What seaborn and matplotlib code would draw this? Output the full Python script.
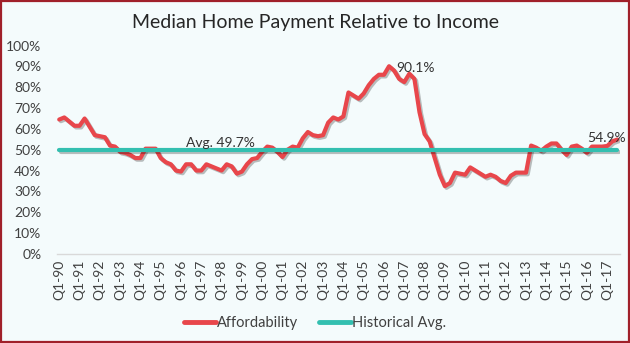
import matplotlib
matplotlib.use("Agg")
import matplotlib.pyplot as plt
import matplotlib.patheffects as pe
from matplotlib.patches import Rectangle
import numpy as np
import pandas as pd
import seaborn as sns

# Quarterly median home payment as % of median income, Q1-1990 .. Q3-2017
affordability = [
    64.5, 65.5, 63.5, 61.5,   # 1990
    61.5, 65.0, 61.0, 57.0,   # 1991
    56.5, 56.0, 52.0, 51.5,   # 1992
    49.0, 48.5, 47.5, 46.0,   # 1993
    46.0, 50.5, 50.5, 50.5,   # 1994
    46.0, 44.0, 43.0, 40.0,   # 1995
    39.5, 43.0, 43.0, 40.0,   # 1996
    40.0, 43.0, 42.0, 41.0,   # 1997
    40.0, 43.0, 42.0, 38.5,   # 1998
    39.5, 43.0, 45.5, 46.0,   # 1999
    49.0, 51.5, 51.0, 49.0,   # 2000
    46.5, 50.0, 51.5, 51.0,   # 2001
    55.5, 58.5, 57.0, 56.5,   # 2002
    57.0, 63.0, 65.5, 64.5,   # 2003
    66.0, 77.5, 76.0, 74.5,   # 2004
    77.0, 81.0, 84.0, 86.0,   # 2005
    86.0, 90.1, 88.0, 84.0,   # 2006
    82.5, 86.5, 84.0, 68.0,   # 2007
    57.5, 54.0, 46.0, 38.0,   # 2008
    32.5, 34.0, 39.0, 38.5,   # 2009
    38.0, 41.5, 40.0, 38.5,   # 2010
    37.0, 38.0, 37.0, 35.0,   # 2011
    34.0, 37.5, 39.0, 39.0,   # 2012
    39.0, 52.0, 51.0, 49.5,   # 2013
    51.5, 53.0, 53.0, 50.0,   # 2014
    47.5, 51.5, 52.0, 50.5,   # 2015
    48.5, 51.5, 51.5, 51.5,   # 2016
    51.8, 54.0, 54.9,         # 2017
]
historical_avg = 49.7
years = [f"{y % 100:02d}" for y in range(1990, 2018)]
tick_labels = [f"Q1-{y}" for y in years]
peak_label = "90.1%"
last_label = "54.9%"
avg_label = "Avg. 49.7%"

n = len(affordability)
df = pd.DataFrame({
    "idx": np.arange(n),
    "Affordability": affordability,
    "Historical Avg.": [historical_avg] * n,
})
long = df.melt(id_vars="idx", var_name="series", value_name="pct")

RED = "#E8464B"
TEAL = "#33BFB0"
BG = "#F4FBFC"

sns.set_theme(style="white")
plt.rcParams["font.family"] = ["Lato", "DejaVu Sans"]

fig = plt.figure(figsize=(6.3, 3.43), dpi=100, facecolor=BG)
ax = fig.add_axes([0.09, 0.26, 0.894, 0.607])
ax.set_facecolor(BG)

shadow = [pe.SimpleLineShadow(offset=(1.2, -1.2), shadow_color="#000000", alpha=0.25), pe.Normal()]

# affordability first, average on top
sns.lineplot(data=long, x="idx", y="pct", hue="series",
             palette={"Affordability": RED, "Historical Avg.": TEAL},
             hue_order=["Affordability", "Historical Avg."],
             linewidth=3.0, ax=ax, legend=False)
for line in ax.get_lines():
    line.set_path_effects(shadow)
    line.set_solid_capstyle("round")

ax.set_xlim(-0.5, n - 0.5)
ax.set_ylim(0, 100)
ax.set_yticks(np.arange(0, 101, 10))
ax.set_yticklabels([f"{v}%" for v in range(0, 101, 10)])
ax.set_xticks(np.arange(0, n, 4))
ax.set_xticklabels(tick_labels, rotation=90)
ax.tick_params(axis="y", length=0, labelsize=10, colors="#404040", pad=11)
ax.tick_params(axis="x", length=0, labelsize=10, colors="#404040", pad=4)
ax.set_xlabel("")
ax.set_ylabel("")
for side in ["top", "right", "left"]:
    ax.spines[side].set_visible(False)
ax.spines["bottom"].set_color("#D9D9D9")
ax.spines["bottom"].set_linewidth(1.0)

# value callouts
peak_i = int(np.argmax(affordability))
ax.annotate(peak_label, (peak_i, affordability[peak_i]), xytext=(5, -1),
            textcoords="offset points", ha="left", va="center",
            fontsize=10, color="#333333")
ax.annotate(last_label, (n - 1, affordability[-1]), xytext=(-8, 1),
            textcoords="offset points", ha="center", va="center",
            fontsize=10, color="#333333", annotation_clip=False)
ax.annotate(avg_label, (31.7, historical_avg), xytext=(0, 1),
            textcoords="offset points", ha="center", va="bottom",
            fontsize=10, color="#333333")

fig.suptitle("Median Home Payment Relative to Income", x=0.5, y=0.96,
             fontsize=14, color="#262626")

handles = [plt.Line2D([], [], color=RED, lw=3.5), plt.Line2D([], [], color=TEAL, lw=3.5)]
fig.legend(handles, ["Affordability", "Historical Avg."], loc="center",
           bbox_to_anchor=(0.5, 0.058), ncol=2, frameon=False, fontsize=10.5,
           handlelength=2.2, handletextpad=0.1, columnspacing=1.4,
           labelcolor="#404040")

fig.add_artist(Rectangle((0.0015, 0.004), 0.997, 0.993, transform=fig.transFigure,
                         fill=False, edgecolor="#A0202A", linewidth=1.6))

fig.savefig("out.png", dpi=100, facecolor=BG)
